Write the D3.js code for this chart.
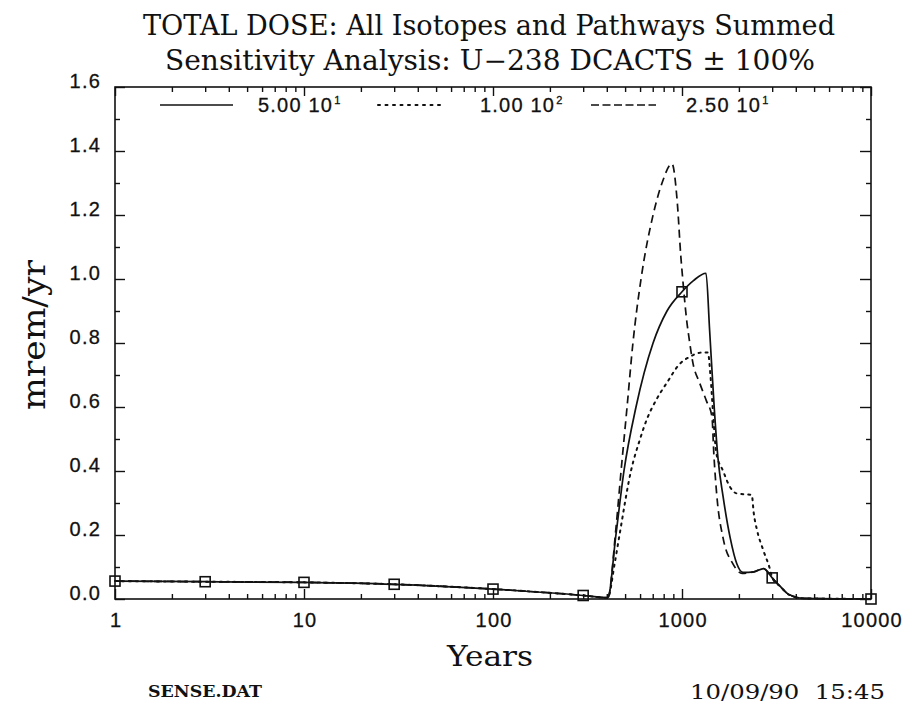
<!DOCTYPE html>
<html>
<head>
<meta charset="utf-8">
<script src="https://cdn.jsdelivr.net/npm/d3@7"></script>
<style>
  html, body { margin: 0; padding: 0; background: #fff; }
  svg { display: block; }
  .tick text, .sans { font-family: "Liberation Sans", Arial, sans-serif; font-size: 20px; letter-spacing: 1.2px;
    fill: #111; stroke: #111; stroke-width: 0.3px; }
  .serif { font-family: "DejaVu Serif", "Liberation Serif", serif; fill: #111; }
</style>
</head>
<body>
<svg id="chart" width="909" height="705"></svg>
<script>
// ── Data ─────────────────────────────────────────────────────────────────────

const markerYears = [1, 3, 10, 30, 100, 300, 1000, 3000, 10000];

// 5.00 10^1 (solid, with square markers)
const solidYears = [1, 3, 10, 30, 100, 300, 405, 447, 493, 571, 703, 833, 1000, 1150, 1340,
  1400, 1480, 1550, 1650, 1800, 1950, 2100, 2400, 2700, 3000, 3300, 3700, 4400, 10000];
const solidDose  = [0.056, 0.054, 0.052, 0.046, 0.031, 0.011, 0.004, 0.2, 0.4, 0.6, 0.8, 0.9, 0.96, 0.995, 1.018,
  0.84, 0.60, 0.44, 0.32, 0.19, 0.11, 0.083, 0.085, 0.095, 0.066, 0.04, 0.013, 0.002, 0.0];

// 1.00 10^2 (dotted)
const dottedYears = [1, 3, 10, 30, 100, 300, 405, 440, 467, 537, 600, 650, 735, 830, 974, 1100, 1265, 1370,
  1420, 1460, 1520, 1650, 1795, 1945, 2340, 2395, 2495, 2690, 2930, 3000, 3300, 3700, 4400, 10000];
const dottedDose  = [0.056, 0.054, 0.052, 0.046, 0.031, 0.011, 0.004, 0.11, 0.2, 0.4, 0.5, 0.56, 0.625, 0.675, 0.735, 0.757, 0.77, 0.77,
  0.685, 0.58, 0.455, 0.40, 0.35, 0.33, 0.325, 0.27, 0.215, 0.153, 0.09, 0.066, 0.04, 0.013, 0.002, 0.0];

// 2.50 10^1 (dashed)
const dashedYears = [1, 3, 10, 30, 100, 300, 405, 447, 476, 512, 550, 607, 703, 784, 885, 944, 986, 1009, 1059,
  1093, 1140, 1240, 1345, 1440, 1475, 1530, 1650, 1860, 2080, 2400, 2700, 3000, 3300, 3700, 4400, 10000];
const dashedDose  = [0.056, 0.054, 0.052, 0.046, 0.031, 0.011, 0.004, 0.22, 0.4, 0.6, 0.8, 1.0, 1.2, 1.3, 1.36, 1.24, 1.07, 1.0, 0.87,
  0.81, 0.74, 0.675, 0.62, 0.57, 0.45, 0.32, 0.19, 0.11, 0.08, 0.085, 0.095, 0.066, 0.04, 0.013, 0.002, 0.0];

const xTickLabels = [1, 10, 100, 1000, 10000];
const yTickLabels = [0, 0.2, 0.4, 0.6, 0.8, 1.0, 1.2, 1.4, 1.6];

const legendLabels = ['5.00 10', '1.00 10', '2.50 10'];
const legendExps   = ['1', '2', '1'];

const titleLines = ['TOTAL DOSE: All Isotopes and Pathways Summed',
                    'Sensitivity Analysis: U\u2212238 DCACTS \u00b1 100%'];

// ── Layout ───────────────────────────────────────────────────────────────────

const margin = { left: 115, right: 871, top: 87, bottom: 599 };

const svg = d3.select('#chart');

const x = d3.scaleLog().domain([1, 10000]).range([margin.left, margin.right]);
const y = d3.scaleLinear().domain([0, 1.6]).range([margin.bottom, margin.top]);

// ── Axes: ticks point inwards on all four sides ─────────────────────────────

const minorX = x.ticks().filter(t => !xTickLabels.includes(t));
const minorY = d3.range(1, 16, 2).map(i => i / 10);

function styleAxis(g) {
  g.select('.domain').remove();
  g.selectAll('.tick line').attr('stroke', '#111').attr('stroke-width', 1.4);
}

// bottom
svg.append('g').attr('transform', `translate(0,${margin.bottom})`)
  .call(d3.axisBottom(x).tickValues(xTickLabels).tickSize(-10).tickPadding(14)
    .tickFormat(d3.format('d')))
  .call(styleAxis)
  .call(g => g.selectAll('.tick text').attr('dx', '0.6px'));
svg.append('g').attr('transform', `translate(0,${margin.bottom})`)
  .call(d3.axisBottom(x).tickValues(minorX).tickSize(-5).tickFormat(''))
  .call(styleAxis);
// top
svg.append('g').attr('transform', `translate(0,${margin.top})`)
  .call(d3.axisTop(x).tickValues(xTickLabels).tickSize(-9).tickFormat(''))
  .call(styleAxis);
svg.append('g').attr('transform', `translate(0,${margin.top})`)
  .call(d3.axisTop(x).tickValues(minorX).tickSize(-5).tickFormat(''))
  .call(styleAxis);
// left: labels sit with their baseline on the tick
svg.append('g').attr('transform', `translate(${margin.left},0)`)
  .call(d3.axisLeft(y).tickValues(yTickLabels).tickSize(-10).tickPadding(14)
    .tickFormat(d3.format('.1f')))
  .call(styleAxis)
  .call(g => g.selectAll('.tick text').attr('dy', '0'));
svg.append('g').attr('transform', `translate(${margin.left},0)`)
  .call(d3.axisLeft(y).tickValues(minorY).tickSize(-5).tickFormat(''))
  .call(styleAxis);
// right
svg.append('g').attr('transform', `translate(${margin.right},0)`)
  .call(d3.axisRight(y).tickValues(yTickLabels).tickSize(-11).tickFormat(''))
  .call(styleAxis);
svg.append('g').attr('transform', `translate(${margin.right},0)`)
  .call(d3.axisRight(y).tickValues(minorY).tickSize(-5).tickFormat(''))
  .call(styleAxis);

// frame
svg.append('rect')
  .attr('x', margin.left).attr('y', margin.top)
  .attr('width', margin.right - margin.left).attr('height', margin.bottom - margin.top)
  .attr('fill', 'none').attr('stroke', '#111').attr('stroke-width', 1.6);

// ── Curves ──────────────────────────────────────────────────────────────────

const line = d3.line()
  .x(d => x(d[0]))
  .y(d => y(d[1]))
  .curve(d3.curveMonotoneX);

const series = [
  { years: dottedYears, dose: dottedDose, dash: '2 5', cap: 'round', w: 2 },
  { years: dashedYears, dose: dashedDose, dash: '8 5', cap: 'butt',  w: 1.7 },
  { years: solidYears,  dose: solidDose,  dash: null,  cap: 'butt',  w: 1.7 }
];

series.forEach(s => {
  svg.append('path')
    .datum(d3.zip(s.years, s.dose))
    .attr('d', line)
    .attr('fill', 'none')
    .attr('stroke', '#111')
    .attr('stroke-width', s.w)
    .attr('stroke-linecap', s.cap)
    .attr('stroke-dasharray', s.dash);
});

// square markers on the solid curve
svg.selectAll('.marker')
  .data(markerYears.map(t => [t, solidDose[solidYears.indexOf(t)]]))
  .join('rect')
  .attr('class', 'marker')
  .attr('x', d => x(d[0]) - 5).attr('y', d => y(d[1]) - 5)
  .attr('width', 10).attr('height', 10)
  .attr('fill', 'none').attr('stroke', '#111').attr('stroke-width', 1.6);

// ── Legend ──────────────────────────────────────────────────────────────────

const legendX    = [160, 378, 591];
const legendLen  = [73, 64, 65];
const legendText = [258, 480, 686];
const legendDash = [null, '2 5.5', '8 3.5'];
const legendY = 105;

legendLabels.forEach((lab, i) => {
  const lx = legendX[i];
  svg.append('line')
    .attr('x1', lx).attr('x2', lx + legendLen[i]).attr('y1', legendY).attr('y2', legendY)
    .attr('stroke', '#111').attr('stroke-width', i === 1 ? 2 : 1.6)
    .attr('stroke-linecap', i === 1 ? 'round' : 'butt')
    .attr('stroke-dasharray', legendDash[i]);
  const t = svg.append('text').attr('class', 'sans')
    .attr('x', legendText[i]).attr('y', legendY + 7)
    .attr('font-size', 19)
    .text(lab);
  t.append('tspan').attr('dy', -8).attr('dx', 1).attr('font-size', 11).text(legendExps[i]);
});

// ── Titles & labels ─────────────────────────────────────────────────────────

svg.append('text').attr('class', 'serif')
  .attr('x', 143).attr('y', 35)
  .attr('font-size', 27).attr('textLength', 692).attr('lengthAdjust', 'spacingAndGlyphs')
  .text(titleLines[0]);
svg.append('text').attr('class', 'serif')
  .attr('x', 165).attr('y', 70)
  .attr('font-size', 27).attr('textLength', 650).attr('lengthAdjust', 'spacingAndGlyphs')
  .text(titleLines[1]);

svg.append('text').attr('class', 'serif')
  .attr('transform', 'translate(45,338) rotate(-90)')
  .attr('x', -72).attr('font-size', 31)
  .attr('textLength', 150).attr('lengthAdjust', 'spacingAndGlyphs')
  .text('mrem/yr');

svg.append('text').attr('class', 'serif')
  .attr('x', 447).attr('y', 666)
  .attr('font-size', 28).attr('textLength', 86).attr('lengthAdjust', 'spacingAndGlyphs')
  .text('Years');

svg.append('text').attr('class', 'serif')
  .attr('x', 148).attr('y', 697).attr('font-size', 17).attr('font-weight', 'bold')
  .attr('textLength', 114).attr('lengthAdjust', 'spacingAndGlyphs')
  .text('SENSE.DAT');

svg.append('text').attr('class', 'serif')
  .attr('x', 690).attr('y', 699).attr('font-size', 20)
  .attr('xml:space', 'preserve')
  .attr('textLength', 195).attr('lengthAdjust', 'spacingAndGlyphs')
  .text('10/09/90  15:45');
</script>
</body>
</html>
